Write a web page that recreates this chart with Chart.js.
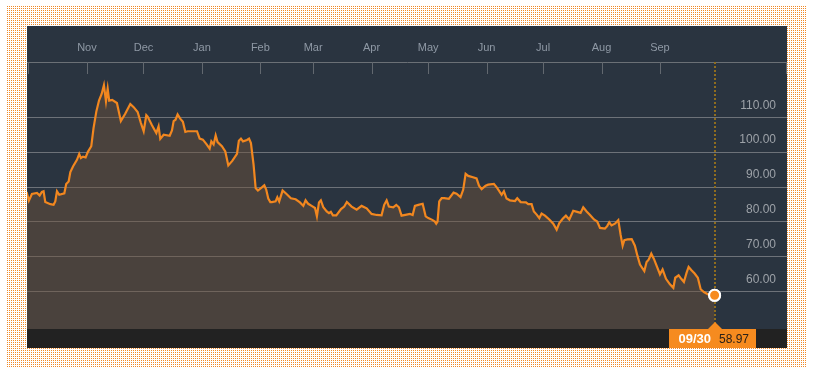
<!DOCTYPE html>
<html>
<head>
<meta charset="utf-8">
<title>Price chart</title>
<script src="https://cdn.jsdelivr.net/npm/chart.js@4.4.1/dist/chart.umd.min.js"></script>
<style>
    html, body { margin: 0; padding: 0; background: #fff; }
    /* dotted orange frame round the chart: one orange pixel per 2x2 cell */
    .frame {
        position: absolute;
        left: 7px;
        top: 6px;
        width: 799px;
        height: 361px;
        background-color: #fff;
        background-image: url("data:image/svg+xml;utf8,<svg xmlns='http://www.w3.org/2000/svg' width='2' height='2' shape-rendering='crispEdges'><rect x='0' y='0' width='1' height='1' fill='%23f08a28'/></svg>");
        background-size: 2px 2px;
        image-rendering: pixelated;
    }
    .panel {
        position: absolute;
        left: 20px;
        top: 20px;
        width: 760px;
        height: 322px;
        background: #2a3440;
    }
    canvas { display: block; }
</style>
</head>
<body>
<div class="frame">
    <div class="panel">
        <canvas id="chart" width="760" height="322"></canvas>
    </div>
</div>
<script>
// Month ticks, as days counted from 1 Nov
const monthNames = ['Nov', 'Dec', 'Jan', 'Feb', 'Mar', 'Apr', 'May', 'Jun', 'Jul', 'Aug', 'Sep'];
const monthDays = [0, 30, 61, 92, 120, 151, 181, 212, 242, 273, 304];

// Value axis labels
const yTicks = [60, 70, 80, 90, 100, 110];

// Series: day (from 1 Nov) and closing value
const days = [
    -32, -30.8, -29.2, -26.5, -25.1, -23.9, -23.0, -22.1, -19.4, -17.7,
    -16.8, -15.9, -14.7, -12.0, -11.0, -9.7, -8.8, -7.4, -5.3, -4.1,
    -3.2, -2.1, -0.7, 0.5, 2.3, 3.5, 5.0, 6.4, 7.8, 9.0,
    10.1, 11.0, 11.8, 13.4, 15.9, 18.0, 20.3, 23.0, 24.8, 26.9,
    28.6, 30.1, 31.5, 32.2, 34.5, 36.8, 38.0, 38.9, 40.7, 43.9,
    45.1, 46.0, 47.0, 48.1, 49.5, 50.9, 52.2, 53.4, 58.4, 59.8,
    61.5, 63.3, 65.1, 66.0, 67.2, 68.3, 69.3, 71.6, 73.4, 75.0,
    77.1, 79.6, 80.6, 81.7, 82.8, 84.9, 86.0, 87.0, 88.4, 89.5,
    90.7, 92.8, 94.1, 95.1, 96.2, 97.3, 98.1,
    100.1, 101.0, 102.0, 103.8, 105.9, 108.2, 110.7, 113.0, 114.8, 116.0,
    117.4, 119.2, 121.0, 122.0, 123.1, 124.1, 125.4, 127.2, 128.4, 129.4,
    130.5, 132.3, 134.8, 136.5, 137.9, 140.4, 143.1, 145.7, 148.4, 151.0,
    153.7, 156.3, 157.7, 159.0, 160.2, 162.5, 164.1, 165.5, 166.9, 169.6,
    171.4, 172.8, 174.0, 175.8, 178.1, 179.7, 181.1, 183.2, 184.6, 185.3,
    186.0, 186.9, 188.2, 189.6, 192.0, 194.5, 196.1, 198.2, 199.6, 200.9,
    202.3, 204.8, 206.7, 208.0, 209.4, 211.5, 212.9,
    215.9, 217.7, 220.0, 221.2, 222.6, 224.4, 227.1, 228.3, 230.1, 232.9,
    234.1, 235.9, 237.1, 238.6, 240.0, 241.2, 243.0, 245.3, 247.4, 249.2,
    250.6, 252.4, 254.1, 255.9, 258.0, 260.1, 261.9, 263.3, 265.1, 266.9,
    269.0, 270.7, 272.2, 274.8, 276.0, 277.1, 278.3, 280.1, 281.9, 283.1,
    284.2, 285.1, 286.8, 289.0, 290.7, 292.0, 293.4, 295.7, 296.9, 298.0,
    299.4, 300.8, 302.2, 304.0, 305.4, 307.2, 309.3, 311.1, 312.1, 313.9,
    315.3, 316.7, 318.1, 319.2, 320.6, 322.4, 324.1, 325.6, 327.3, 329.6,
    333
];
const prices = [
    88.6, 86.1, 88.0, 88.3, 87.6, 88.6, 88.8, 85.7, 85.1, 84.9,
    85.9, 88.8, 87.8, 88.2, 90.9, 91.6, 94.3, 95.9, 97.8, 99.5,
    98.3, 98.7, 98.5, 100.1, 101.7, 106.9, 111.7, 114.8, 116.7, 119.2,
    114.6, 118.2, 114.8, 115.0, 114.1, 108.9, 111.0, 113.8, 112.9, 111.5,
    108.4, 106.0, 110.6, 110.2, 107.7, 105.5, 107.4, 103.8, 105.0, 104.7,
    106.2, 108.9, 109.3, 110.8, 109.6, 108.7, 105.8, 106.0, 106.0, 103.9,
    103.6, 102.4, 101.0, 103.1, 102.2, 104.8, 102.9, 101.7, 100.2, 96.2,
    97.5, 99.5, 103.3, 103.9, 103.1, 103.5, 103.9, 102.6, 96.4, 89.7,
    89.0, 89.9, 90.5, 89.3, 86.7, 85.7, 85.7,
    85.9, 87.1, 85.9, 89.0, 88.0, 86.8, 86.5, 85.6, 84.6, 86.2,
    85.2, 84.6, 84.0, 81.6, 85.6, 86.2, 84.2, 83.0, 82.5, 82.9,
    81.9, 81.9, 83.7, 84.4, 85.7, 84.4, 83.5, 84.6, 83.9, 82.3,
    82.0, 81.9, 84.9, 86.2, 84.4, 84.2, 84.9, 84.2, 81.8, 82.1,
    82.3, 82.0, 84.6, 84.9, 85.2, 81.6, 81.1, 80.6, 80.1, 79.5,
    80.1, 85.9, 86.8, 86.8, 86.6, 88.4, 88.1, 87.1, 89.2, 93.8,
    93.2, 92.8, 92.5, 90.4, 89.4, 90.4, 90.7,
    90.9, 89.7, 87.8, 88.8, 86.7, 86.2, 86.0, 86.8, 85.7, 85.6,
    85.1, 85.1, 83.0, 82.1, 81.1, 82.4, 81.8, 80.7, 79.5, 77.8,
    79.7, 80.9, 81.8, 80.7, 83.2, 82.9, 82.6, 84.2, 83.0, 82.0,
    80.7, 80.1, 78.3, 78.1, 78.8, 79.9, 79.0, 79.5, 80.5, 76.4,
    73.2, 74.8, 75.0, 75.1, 73.2, 70.4, 67.8, 65.9, 68.5, 69.2,
    70.9, 69.4, 67.5, 65.0, 66.4, 63.7, 62.1, 61.1, 64.0, 64.7,
    63.7, 62.8, 65.4, 67.1, 66.2, 65.2, 64.0, 60.7, 59.9, 59.2,
    58.97
];

const FONT = '"Liberation Sans", Arial, sans-serif';
const ORANGE = '#f2871f';
const lastIndex = days.length - 1;

/**
 * Format a day offset (from 1 Nov) as MM/DD
 */
function dayLabel(day) {
    const dt = new Date(Date.UTC(2017, 10, 1) + day * 86400000);
    const mm = String(dt.getUTCMonth() + 1).padStart(2, '0');
    const dd = String(dt.getUTCDate()).padStart(2, '0');
    return mm + '/' + dd;
}

// Hanging month ticks, bottom strip, cursor line and last value badge
const overlay = {
    id: 'overlay',
    afterDatasetsDraw(chart) {
        const { ctx, chartArea } = chart;
        const xScale = chart.scales.x;
        ctx.save();

        // month ticks under the top axis
        ctx.strokeStyle = '#62686f';
        ctx.lineWidth = 1;
        const tickXs = [chartArea.left + 1, ...monthDays.map(d => xScale.getPixelForValue(d)), chartArea.right - 1];
        tickXs.forEach(px => {
            const x = Math.round(px) + 0.5;
            ctx.beginPath();
            ctx.moveTo(x, chartArea.top);
            ctx.lineTo(x, chartArea.top + 12);
            ctx.stroke();
        });

        // dark strip at the bottom
        ctx.fillStyle = '#222222';
        ctx.fillRect(0, chartArea.bottom, chart.width, chart.height - chartArea.bottom);

        // dotted cursor line at the last point
        const meta = chart.getDatasetMeta(0);
        const pt = meta.data[lastIndex];
        const px = Math.round(pt.x);
        ctx.strokeStyle = '#8f6d1f';
        ctx.lineWidth = 2;
        ctx.setLineDash([2, 2]);
        ctx.beginPath();
        ctx.moveTo(px, chartArea.top);
        ctx.lineTo(px, chartArea.bottom);
        ctx.stroke();
        ctx.setLineDash([]);

        // marker back on top of the cursor line
        pt.draw(ctx, chartArea);

        // badge with date and value
        const bottom = chartArea.bottom;
        ctx.fillStyle = '#f68b1f';
        ctx.beginPath();
        ctx.moveTo(px - 7, bottom);
        ctx.lineTo(px, bottom - 7);
        ctx.lineTo(px + 7, bottom);
        ctx.closePath();
        ctx.fill();
        ctx.fillRect(px - 46, bottom, 87, chart.height - bottom);

        const ty = (bottom + chart.height) / 2 + 1;
        ctx.textBaseline = 'middle';
        ctx.font = 'bold 13px ' + FONT;
        ctx.fillStyle = '#ffffff';
        ctx.textAlign = 'right';
        ctx.fillText(dayLabel(days[lastIndex]), px - 4, ty);
        ctx.font = '12px ' + FONT;
        ctx.fillStyle = '#2b2118';
        ctx.textAlign = 'left';
        ctx.fillText(prices[lastIndex].toFixed(2), px + 4, ty);

        ctx.restore();
    }
};

new Chart(document.getElementById('chart'), {
    type: 'line',
    data: {
        datasets: [{
            data: days.map((d, i) => ({ x: d, y: prices[i] })),
            borderColor: ORANGE,
            borderWidth: 2.2,
            backgroundColor: 'rgba(112, 85, 57, 0.45)',
            fill: 'start',
            tension: 0,
            pointRadius: ctx => ctx.dataIndex === lastIndex ? 5.5 : 0,
            pointHoverRadius: 0,
            pointBackgroundColor: '#f68b1f',
            pointBorderColor: '#ffffff',
            pointBorderWidth: 2
        }]
    },
    options: {
        responsive: false,
        animation: false,
        events: [],
        layout: { autoPadding: false, padding: { left: 0, right: 0, top: 0, bottom: 19 } },
        plugins: {
            legend: { display: false },
            tooltip: { enabled: false }
        },
        scales: {
            x: {
                type: 'linear',
                position: 'top',
                min: -31.8,
                max: 371.4,
                afterBuildTicks: scale => {
                    scale.ticks = monthDays.map(v => ({ value: v }));
                },
                afterFit: scale => {
                    scale.height = 36;
                    scale.paddingLeft = 0;
                    scale.paddingRight = 0;
                },
                grid: { display: true, drawOnChartArea: false, drawTicks: false },
                border: { display: true, color: '#6b7076', width: 1 },
                ticks: {
                    autoSkip: false,
                    maxRotation: 0,
                    padding: 7,
                    color: '#8f99a5',
                    font: { size: 11, family: FONT },
                    callback: (v, i) => monthNames[i]
                }
            },
            y: {
                position: 'right',
                min: 49.31,
                max: 125.85,
                afterBuildTicks: scale => {
                    scale.ticks = yTicks.map(v => ({ value: v }));
                },
                afterFit: scale => {
                    scale.width = 0;
                    scale.paddingTop = 0;
                    scale.paddingBottom = 0;
                },
                grid: { color: '#6d7279', lineWidth: 1, drawTicks: false },
                border: { display: false },
                ticks: {
                    mirror: true,
                    padding: -11,
                    labelOffset: -12,
                    color: '#9da2a8',
                    font: { size: 12, family: FONT },
                    callback: v => Number(v).toFixed(2)
                }
            }
        }
    },
    plugins: [overlay]
});
</script>
</body>
</html>
